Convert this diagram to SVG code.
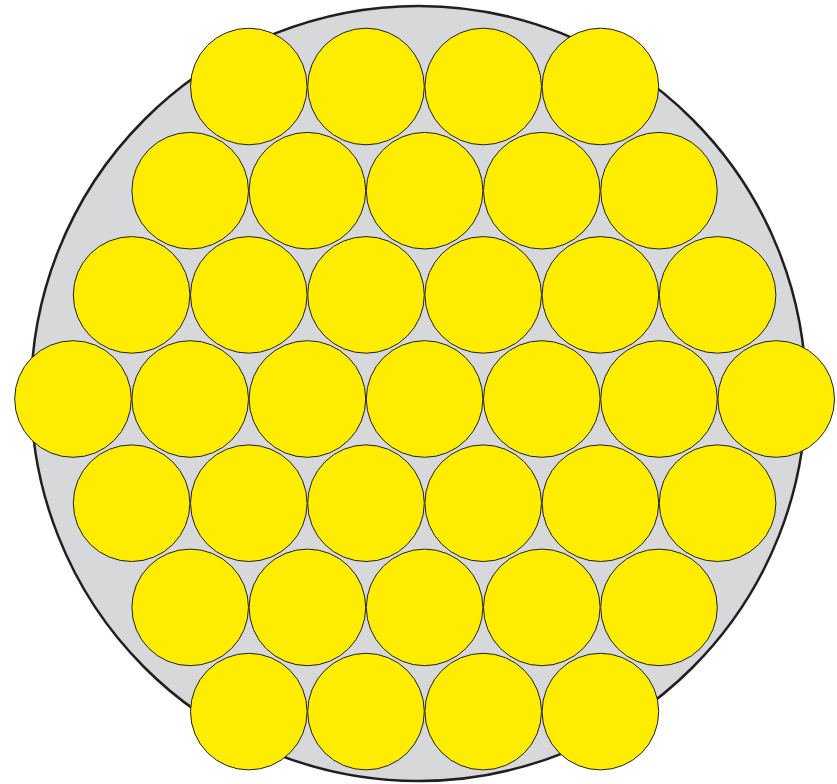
<svg xmlns="http://www.w3.org/2000/svg" width="837" height="784" viewBox="0 0 837 784">
<style>
.outer{fill:#d7d8da;stroke:#231f20;stroke-width:2.5}
.w{fill:#ffed00;stroke:#231f20;stroke-width:1}
</style>
<defs><circle id="c" r="58.3" class="w"/></defs>
<rect width="837" height="784" fill="#fff"/>
<circle class="outer" cx="418.5" cy="393.5" r="387.5"/>
<g id="row1">
<use href="#c" x="248.8" y="86.5"/><use href="#c" x="366" y="86.5"/><use href="#c" x="483.2" y="86.5"/><use href="#c" x="600.4" y="86.5"/>
</g>
<g id="row2">
<use href="#c" x="190.2" y="190.7"/><use href="#c" x="307.4" y="190.7"/><use href="#c" x="424.6" y="190.7"/><use href="#c" x="541.8" y="190.7"/><use href="#c" x="659" y="190.7"/>
</g>
<g id="row3">
<use href="#c" x="131.6" y="294.9"/><use href="#c" x="248.8" y="294.9"/><use href="#c" x="366" y="294.9"/><use href="#c" x="483.2" y="294.9"/><use href="#c" x="600.4" y="294.9"/><use href="#c" x="717.6" y="294.9"/>
</g>
<g id="row4">
<use href="#c" x="73" y="399"/><use href="#c" x="190.2" y="399"/><use href="#c" x="307.4" y="399"/><use href="#c" x="424.6" y="399"/><use href="#c" x="541.8" y="399"/><use href="#c" x="659" y="399"/><use href="#c" x="776.2" y="399"/>
</g>
<g id="row5">
<use href="#c" x="131.6" y="503.2"/><use href="#c" x="248.8" y="503.2"/><use href="#c" x="366" y="503.2"/><use href="#c" x="483.2" y="503.2"/><use href="#c" x="600.4" y="503.2"/><use href="#c" x="717.6" y="503.2"/>
</g>
<g id="row6">
<use href="#c" x="190.2" y="607.4"/><use href="#c" x="307.4" y="607.4"/><use href="#c" x="424.6" y="607.4"/><use href="#c" x="541.8" y="607.4"/><use href="#c" x="659" y="607.4"/>
</g>
<g id="row7">
<use href="#c" x="248.8" y="711.6"/><use href="#c" x="366" y="711.6"/><use href="#c" x="483.2" y="711.6"/><use href="#c" x="600.4" y="711.6"/>
</g>
</svg>
